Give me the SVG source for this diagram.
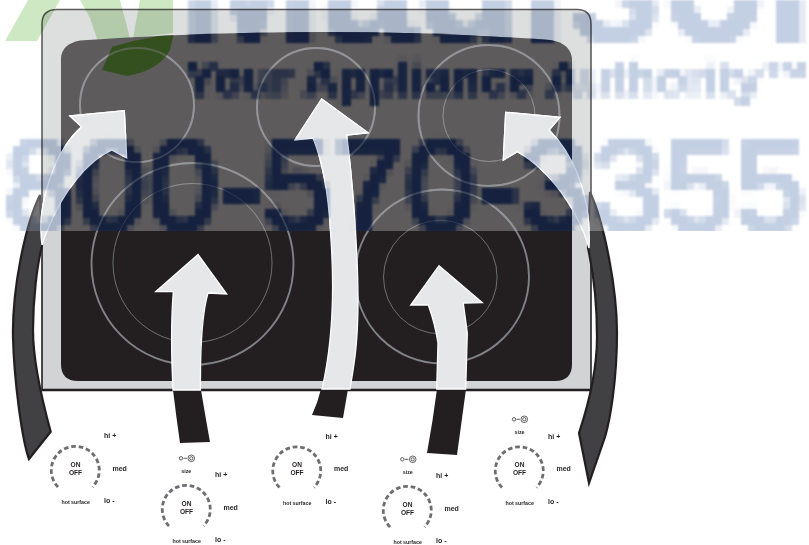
<svg xmlns="http://www.w3.org/2000/svg" width="809" height="545" viewBox="0 0 809 545">
<style>
text{font-family:"Liberation Sans",Arial,sans-serif;font-weight:700;fill:#231f20}
.lb{font-size:7px}.sm{font-size:5.3px;text-anchor:middle}.on{font-size:6.6px;text-anchor:middle}
.dash{fill:none;stroke:#6d6e71;stroke-width:2.8;stroke-dasharray:4.600 2.800}
.rg{fill:none;stroke:#808285;stroke-width:1.9}.ri{fill:none;stroke:#808285;stroke-width:.8}
.ar{fill:#e6e7e8;stroke:#fff;stroke-width:1.3}
.tail{fill:#231f20}.side{fill:#414042;stroke:#231f20;stroke-width:2.200}
.wm text{fill:#c3cfe3;stroke:#c3cfe3}.wd text{fill:#1b2845;stroke:#1b2845}
.w-big{font-size:190px;stroke-width:0}.w-mid{font-size:47px;stroke-width:0}.w-num{font-size:128px;font-weight:400;stroke-width:2.500}
.ic{fill:none;stroke:#231f20;stroke-width:.7}
</style>
<defs>
<filter id="px" filterUnits="userSpaceOnUse" x="0" y="0" width="809" height="240" color-interpolation-filters="sRGB">
<feGaussianBlur in="SourceGraphic" stdDeviation="1" result="b"/>
<feFlood x="3" y="3" width="1" height="1" flood-color="#000"/>
<feComposite width="7" height="7"/>
<feTile result="t"/>
<feComposite in="b" in2="t" operator="in"/>
<feMorphology operator="dilate" radius="3.500"/>
<feGaussianBlur stdDeviation=".8"/>
</filter>
<clipPath id="top"><rect x="0" y="0" width="809" height="231"/></clipPath>
<clipPath id="pn"><path d="M61 58Q62 44 80 40.500Q320 24 550 40Q570 43 572 58V231H61Z"/></clipPath>
</defs>
<rect width="809" height="545" fill="#fff"/>
<g id="cooktop">
<path d="M42 390V24Q42 9.500 57 9.500H577Q591 9.500 591 24V390Z" fill="#d1d3d4" stroke="#231f20" stroke-width="1.600"/>
<path d="M42 390H591" stroke="#231f20" stroke-width="2.400"/>
<path d="M61 58Q62 44 80 40.500Q320 24 550 40Q570 43 572 58V364Q572 381 555 381H78Q61 381 61 364Z" fill="#231f20"/>
</g>
<g id="burners">
<g id="burner-1"><circle class="rg" cx="137" cy="105" r="57"/></g>
<g id="burner-2"><circle class="rg" cx="316" cy="107" r="59"/></g>
<g id="burner-3"><circle class="rg" cx="489" cy="115.500" r="70.500"/><circle class="ri" cx="489" cy="115.500" r="46"/></g>
<g id="burner-4"><circle class="rg" cx="192.500" cy="264" r="101"/><circle class="ri" cx="192.500" cy="263" r="79.500"/></g>
<g id="burner-5"><circle class="rg" cx="442" cy="276.500" r="87"/><circle class="ri" cx="440.300" cy="277" r="56.800"/></g>
</g>
<g id="connectors">
<path class="side" d="M40 195C25 225 12 290 13 337C14 380 22 440 29 459L50.700 431.700C42 400 33 360 33 330C33 300 37 265 42 246Z"/>
<path class="side" d="M590 192C605 225 617 290 617 333C617 380 610 420 605 437L589 483L579 433C590 400 597 370 597 337C597 310 594 275 588 248Z"/>
<path class="tail" d="M173 390L201 390Q206 420 210 442L180 443Q176 415 173 390Z"/>
<path class="tail" d="M321 389L348 389L343 418L312 415Q318 402 321 389Z"/>
<path class="tail" d="M437 389L466 389L457 455L427 453Q433 420 437 389Z"/>
<path id="a1" class="ar" d="M198 254.500L226.700 294L208 293C203 310 200 335 200.500 390H173C171 350 171 320 173.300 291.700H155.700Z"/>
<path id="a2" class="ar" d="M321.700 99L368 132.700L346.700 135C352 175 358 250 358 300C358 345 354 365 350 389H322C331 350 335 300 331 240C329 195 322 160 313 138L295 140Z"/>
<path id="a3" class="ar" d="M439 265.700L482.300 302.700L463.300 303L467.300 333L465.700 389H436.700L438 343C436 330 433 318 428.300 305H410.700Z"/>
<path id="a4" class="ar" d="M70 116L124.300 110.700L126.700 158L111.700 150C90 160 60 190 42 245C36 205 55 150 81.700 126.700Z"/>
<path id="a5" class="ar" d="M505.700 112.300L560 117.300L549 130C572 152 592 195 589 248C578 210 550 170 517.300 151.700L503.300 160Z"/>
</g>
<rect id="wash" x="0" y="0" width="809" height="231" fill="#fff" opacity=".27"/>
<g clip-path="url(#pn)">
<path d="M133 41L174 33L170 50Q160 70 127 76L102 70L112 47Z" fill="#34501f"/>
<g class="wd" filter="url(#px)">
<text class="w-big" x="180" y="41" textLength="690" lengthAdjust="spacingAndGlyphs">Madison</text>
<text class="w-mid" x="185" y="95" textLength="625" lengthAdjust="spacingAndGlyphs">Your Appliance Authority™</text>
<text class="w-num" x="4" y="230" textLength="802" lengthAdjust="spacingAndGlyphs">800-570-3355</text>
</g>
</g>
<g clip-path="url(#top)">
<use href="#burners" opacity=".45"/>
<use href="#a2"/>
<use href="#a4"/>
<use href="#a5"/>
</g>
<g clip-path="url(#top)" style="mix-blend-mode:multiply">
<g class="wm" filter="url(#px)">
<text class="w-big" x="180" y="41" textLength="690" lengthAdjust="spacingAndGlyphs">Madison</text>
<text class="w-mid" x="185" y="95" textLength="625" lengthAdjust="spacingAndGlyphs">Your Appliance Authority™</text>
<text class="w-num" x="4" y="230" textLength="802" lengthAdjust="spacingAndGlyphs">800-570-3355</text>
</g>
<g fill="#cfe8c4">
<path d="M5 41H37L60 0H28Z"/>
<path d="M80 0L90 18L97 39L130 38L120 0Z"/>
<path d="M140 0H173V33L133 38Z"/>
</g>
</g>
<g id="control-1">
<path class="dash" d="M58 487A24 24 0 1 1 92.500 487"/>
<text class="on" x="75.500" y="466.500">ON</text><text class="on" x="75.500" y="474.500">OFF</text>
<text class="lb" x="104" y="438">hi +</text><text class="lb" x="112.500" y="470.500">med</text><text class="lb" x="104" y="503">lo -</text>
<text class="sm" x="75.700" y="504">hot surface</text>
</g>
<g id="control-2" transform="translate(111 39)">
<path class="dash" d="M58 487A24 24 0 1 1 92.500 487"/>
<text class="on" x="75.500" y="466.500">ON</text><text class="on" x="75.500" y="474.500">OFF</text>
<text class="lb" x="104" y="438">hi +</text><text class="lb" x="112.500" y="470.500">med</text><text class="lb" x="104" y="503">lo -</text>
<text class="sm" x="75.700" y="504">hot surface</text>
<g transform="translate(-111 -39)"><circle class="ic" cx="181" cy="458.300" r="1.700"/><path class="ic" d="M183.500 458.300H187"/><circle class="ic" cx="191.300" cy="458.300" r="3.300"/><circle class="ic" cx="191.300" cy="458.300" r="1.600"/><text class="sm" x="186.300" y="472.500">size</text></g>
</g>
<g id="control-3" transform="translate(221.500 .5)">
<path class="dash" d="M58 487A24 24 0 1 1 92.500 487"/>
<text class="on" x="75.500" y="466.500">ON</text><text class="on" x="75.500" y="474.500">OFF</text>
<text class="lb" x="104" y="438">hi +</text><text class="lb" x="112.500" y="470.500">med</text><text class="lb" x="104" y="503">lo -</text>
<text class="sm" x="75.700" y="504">hot surface</text>
</g>
<g id="control-4" transform="translate(332 40)">
<path class="dash" d="M58 487A24 24 0 1 1 92.500 487"/>
<text class="on" x="75.500" y="466.500">ON</text><text class="on" x="75.500" y="474.500">OFF</text>
<text class="lb" x="104" y="438">hi +</text><text class="lb" x="112.500" y="470.500">med</text><text class="lb" x="104" y="503">lo -</text>
<text class="sm" x="75.700" y="504">hot surface</text>
<g transform="translate(-332 -40)"><circle class="ic" cx="402.300" cy="459.300" r="1.700"/><path class="ic" d="M404.800 459.300H408.300"/><circle class="ic" cx="412.700" cy="459.300" r="3.300"/><circle class="ic" cx="412.700" cy="459.300" r="1.600"/><text class="sm" x="407.800" y="473.800">size</text></g>
</g>
<g id="control-5" transform="translate(444 .5)">
<path class="dash" d="M58 487A24 24 0 1 1 92.500 487"/>
<text class="on" x="75.500" y="466.500">ON</text><text class="on" x="75.500" y="474.500">OFF</text>
<text class="lb" x="104" y="438">hi +</text><text class="lb" x="112.500" y="470.500">med</text><text class="lb" x="104" y="503">lo -</text>
<text class="sm" x="75.700" y="504">hot surface</text>
<g transform="translate(-444 -.5)"><circle class="ic" cx="514" cy="419.300" r="1.700"/><path class="ic" d="M516.500 419.300H520"/><circle class="ic" cx="524.300" cy="419.300" r="3.300"/><circle class="ic" cx="524.300" cy="419.300" r="1.600"/><text class="sm" x="519.500" y="433.800">size</text></g>
</g>
</svg>
